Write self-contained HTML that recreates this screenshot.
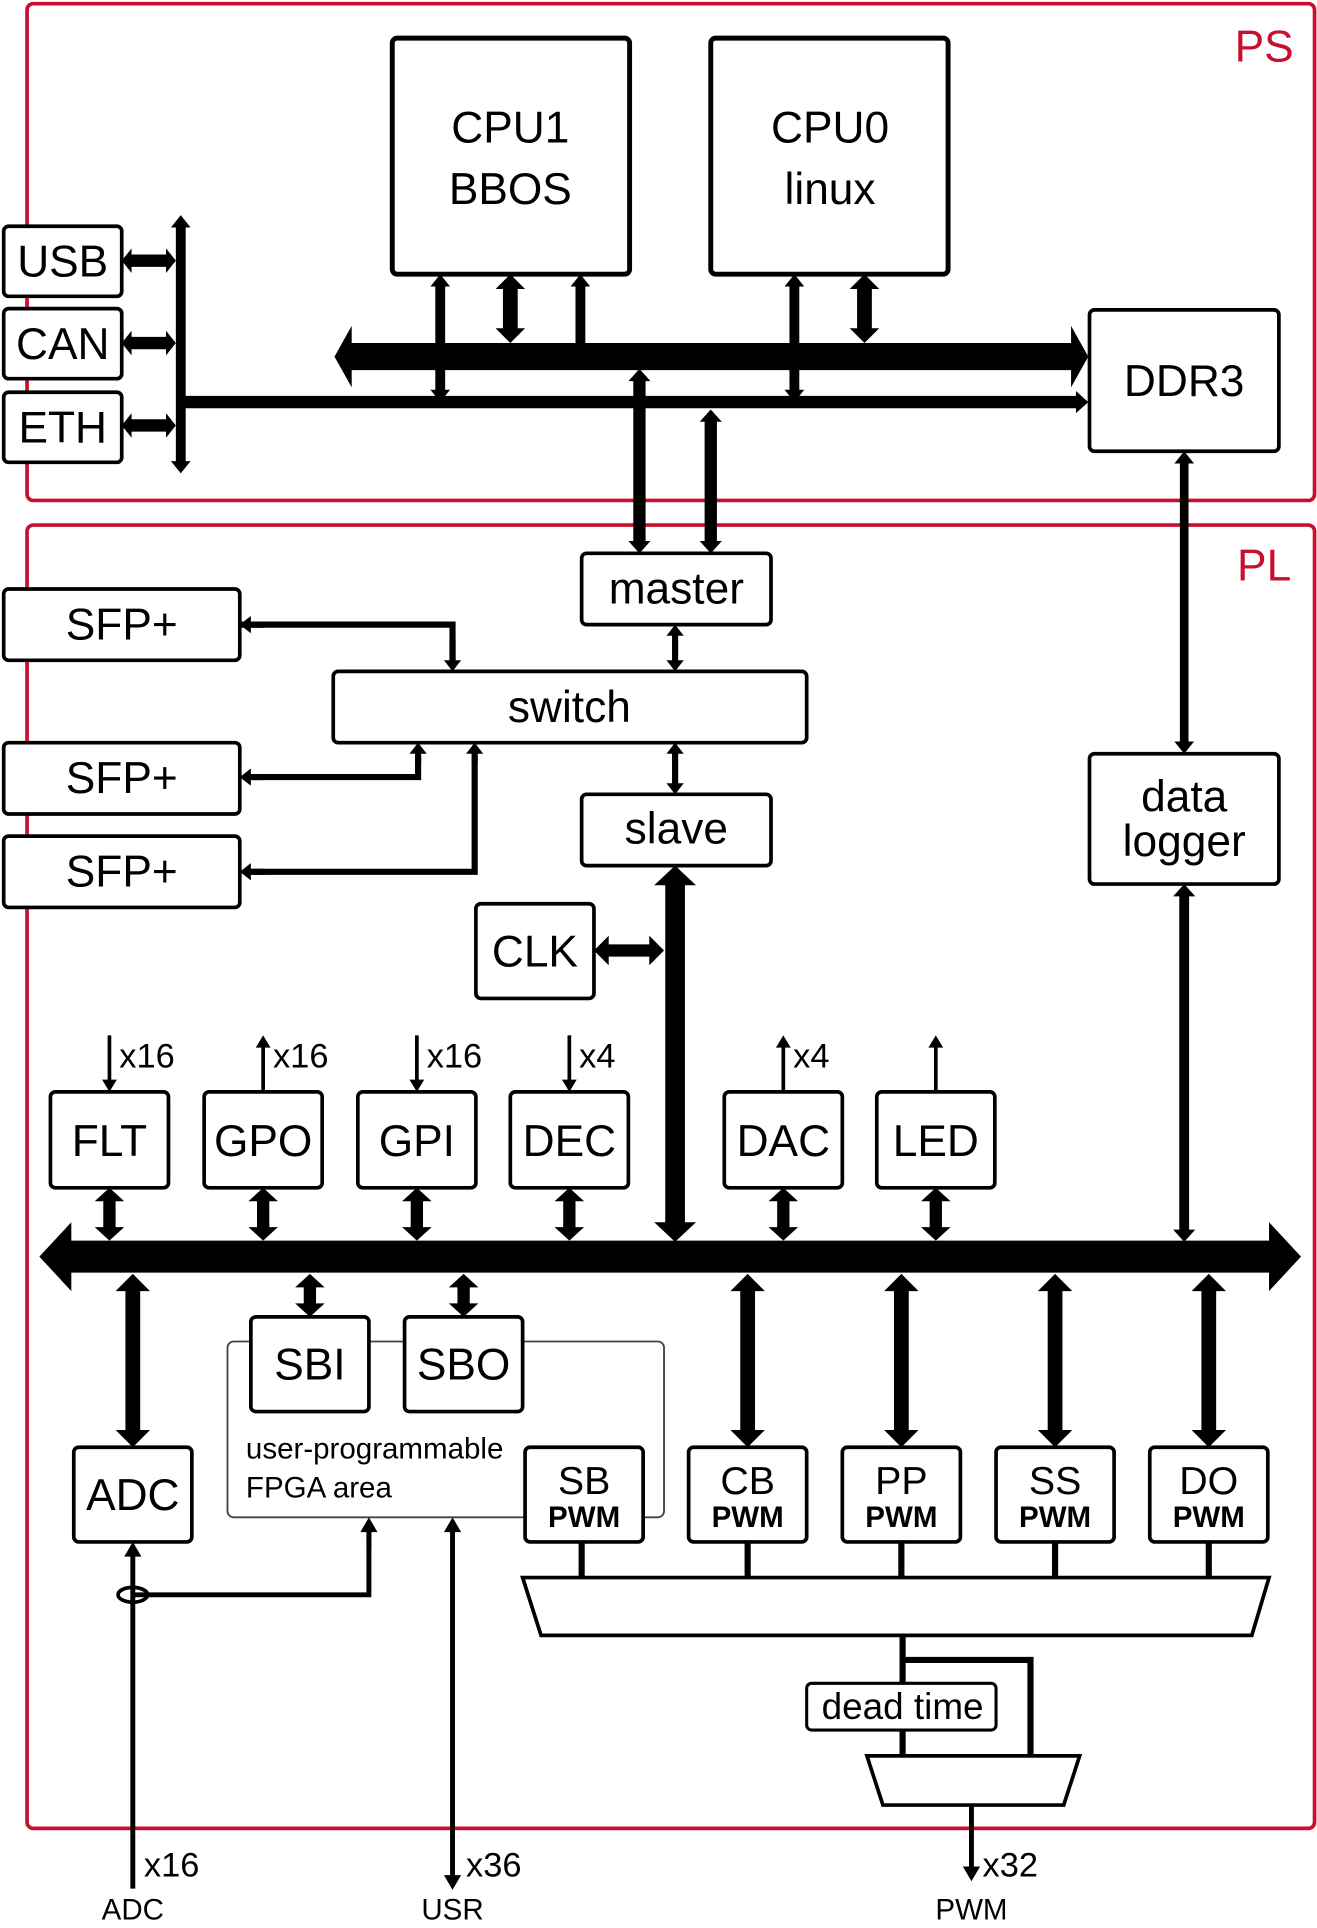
<!DOCTYPE html>
<html><head><meta charset="utf-8"><style>
html,body{margin:0;padding:0;background:#fff;}
svg{display:block;}
text{font-family:"Liberation Sans",sans-serif;fill:#000;text-anchor:middle;}
text.l{text-anchor:start;}
</style></head><body>
<svg id="s" width="1317" height="1928" viewBox="0 0 1071 1568" preserveAspectRatio="none" xmlns="http://www.w3.org/2000/svg">
<g fill="none" stroke="#c8102e" stroke-width="3">
<rect x="22" y="3" width="1047" height="404" rx="5"/>
<rect x="22" y="427" width="1047" height="1060" rx="5"/>
</g>
<text x="1028" y="50" font-size="36" style="fill:#c8102e">PS</text>
<text x="1028" y="472" font-size="36" style="fill:#c8102e">PL</text>
<rect x="185" y="1091" width="355" height="143" rx="5" fill="none" stroke="#444" stroke-width="1.5"/>
<g fill="#fff" stroke="#000" stroke-width="3">
<rect x="319" y="31" width="193" height="192" rx="4" stroke-width="4"/>
<rect x="578" y="31" width="193" height="192" rx="4" stroke-width="4"/>
<rect x="3" y="184" width="96" height="57" rx="4"/>
<rect x="3" y="251" width="96" height="57" rx="4"/>
<rect x="3" y="319" width="96" height="57" rx="4"/>
<rect x="886" y="252" width="154" height="115" rx="4"/>
<rect x="473" y="450" width="154" height="58" rx="4"/>
<rect x="271" y="546" width="385" height="58" rx="4"/>
<rect x="473" y="646" width="154" height="58" rx="4"/>
<rect x="3" y="479" width="192" height="58" rx="4"/>
<rect x="3" y="604" width="192" height="58" rx="4"/>
<rect x="3" y="680" width="192" height="58" rx="4"/>
<rect x="387" y="735" width="96" height="77" rx="4"/>
<rect x="886" y="613" width="154" height="106" rx="4"/>
<rect x="41" y="888" width="96" height="78" rx="4"/>
<rect x="166" y="888" width="96" height="78" rx="4"/>
<rect x="291" y="888" width="96" height="78" rx="4"/>
<rect x="415" y="888" width="96" height="78" rx="4"/>
<rect x="589" y="888" width="96" height="78" rx="4"/>
<rect x="713" y="888" width="96" height="78" rx="4"/>
<rect x="60" y="1177" width="96" height="77" rx="4"/>
<rect x="204" y="1071" width="96" height="77" rx="4"/>
<rect x="329" y="1071" width="96" height="77" rx="4"/>
<rect x="427" y="1177" width="96" height="77" rx="4"/>
<rect x="560" y="1177" width="96" height="77" rx="4"/>
<rect x="685" y="1177" width="96" height="77" rx="4"/>
<rect x="810" y="1177" width="96" height="77" rx="4"/>
<rect x="935" y="1177" width="96" height="77" rx="4"/>
<polygon points="425,1283 1032,1283 1018,1330 440,1330"/>
<polygon points="705,1428 878,1428 865,1468 718,1468"/>
</g>
<g stroke="#000" stroke-width="5" fill="none">
<line x1="473" y1="1254" x2="473" y2="1283"/>
<line x1="608" y1="1254" x2="608" y2="1283"/>
<line x1="733" y1="1254" x2="733" y2="1283"/>
<line x1="858" y1="1254" x2="858" y2="1283"/>
<line x1="983" y1="1254" x2="983" y2="1283"/>
<line x1="734" y1="1330" x2="734" y2="1369"/>
<line x1="734" y1="1407" x2="734" y2="1428"/>
<polyline points="734,1350 838,1350 838,1428"/>
<polyline points="108,1297 300,1297 300,1245" stroke-width="4"/>
<ellipse cx="108" cy="1297" rx="12" ry="6" stroke-width="3"/>
</g>
<rect x="656" y="1369" width="154" height="38" rx="4" fill="#fff" stroke="#000" stroke-width="2.5"/>
<g id="arrows"></g>
<g font-size="36">
<text x="415" y="116">CPU1</text>
<text x="415" y="166">BBOS</text>
<text x="675" y="116">CPU0</text>
<text x="675" y="166">linux</text>
<text x="51" y="225">USB</text>
<text x="51" y="292">CAN</text>
<text x="51" y="360">ETH</text>
<text x="963" y="322">DDR3</text>
<text x="550" y="491">master</text>
<text x="463" y="587">switch</text>
<text x="550" y="686">slave</text>
<text x="99" y="520">SFP+</text>
<text x="99" y="645">SFP+</text>
<text x="99" y="721">SFP+</text>
<text x="435" y="786">CLK</text>
<text x="963" y="660">data</text>
<text x="963" y="696">logger</text>
<text x="89" y="940">FLT</text>
<text x="214" y="940">GPO</text>
<text x="339" y="940">GPI</text>
<text x="463" y="940">DEC</text>
<text x="637" y="940">DAC</text>
<text x="761" y="940">LED</text>
<text x="108" y="1228">ADC</text>
<text x="252" y="1122">SBI</text>
<text x="377" y="1122">SBO</text>
</g>
<g font-size="32">
<text x="475" y="1215">SB</text><text x="608" y="1215">CB</text><text x="733" y="1215">PP</text><text x="858" y="1215">SS</text><text x="983" y="1215">DO</text>
</g>
<g font-size="24" font-weight="bold">
<text x="475" y="1242">PWM</text><text x="608" y="1242">PWM</text><text x="733" y="1242">PWM</text><text x="858" y="1242">PWM</text><text x="983" y="1242">PWM</text>
</g>
<g font-size="24">
<text class="l" x="200" y="1186">user-programmable</text>
<text class="l" x="200" y="1218">FPGA area</text>
</g>
<text x="734" y="1398" font-size="30">dead time</text>
<g font-size="28">
<text class="l" x="97" y="868">x16</text><text class="l" x="222" y="868">x16</text><text class="l" x="347" y="868">x16</text>
<text class="l" x="471" y="868">x4</text><text class="l" x="645" y="868">x4</text>
<text class="l" x="117" y="1526">x16</text><text class="l" x="379" y="1526">x36</text><text class="l" x="799" y="1526">x32</text>
</g>
<g font-size="24">
<text x="108" y="1561">ADC</text><text x="368" y="1561">USR</text><text x="790" y="1561">PWM</text>
</g>
</svg>
<script>
var g=document.getElementById('arrows');
function A(x1,y1,x2,y2,w,s,e,hl,hw){
 hl=hl||Math.max(w*1.5,9);hw=hw||Math.max(w*1.2,7);
 var dx=x2-x1,dy=y2-y1,L=Math.hypot(dx,dy),ux=dx/L,uy=dy/L,nx=-uy,ny=ux,p=[];
 function P(x,y){p.push(x.toFixed(1)+','+y.toFixed(1));}
 var sx=s?x1+ux*hl:x1,sy=s?y1+uy*hl:y1,ex=e?x2-ux*hl:x2,ey=e?y2-uy*hl:y2;
 P(sx+nx*w/2,sy+ny*w/2);P(ex+nx*w/2,ey+ny*w/2);
 if(e){P(ex+nx*hw,ey+ny*hw);P(x2,y2);P(ex-nx*hw,ey-ny*hw);}
 P(ex-nx*w/2,ey-ny*w/2);P(sx-nx*w/2,sy-ny*w/2);
 if(s){P(sx-nx*hw,sy-ny*hw);P(x1,y1);P(sx+nx*hw,sy+ny*hw);}
 var el=document.createElementNS('http://www.w3.org/2000/svg','polygon');
 el.setAttribute('points',p.join(' '));g.appendChild(el);
}
function L(pts,w){var el=document.createElementNS('http://www.w3.org/2000/svg','polyline');el.setAttribute('points',pts);el.setAttribute('fill','none');el.setAttribute('stroke','#000');el.setAttribute('stroke-width',w);g.appendChild(el);}
A(272,290,885,290,22,1,1,14,25);
A(150,327,885,327,10,0,1,10,9);
A(147,175,147,385,8,1,1,10,8);
A(99,212,143,212,10,1,1,8,10);A(99,279,143,279,10,1,1,8,10);A(99,346,143,346,10,1,1,8,10);
A(358,223,358,327,8,1,1,10,8);A(415,223,415,279,12,1,1,12,12);A(472,223,472,279,8,1,0,10,8);
A(646,223,646,327,8,1,1,10,8);A(703,223,703,279,12,1,1,12,12);
A(520,300,520,450,10,1,1,10,9);A(578,333,578,450,10,1,1,10,9);
A(963,367,963,613,7,1,1,10,8);
L('195,508 368,508 368,540',5);A(195,508,215,508,5,1,0,9,7);A(368,520,368,546,5,0,1,9,7);
L('205,632 340,632 340,615',5);A(195,632,215,632,5,1,0,9,7);A(340,620,340,604,5,0,1,9,7);
L('205,709 386,709 386,615',5);A(195,709,215,709,5,1,0,9,7);A(386,620,386,604,5,0,1,9,7);
A(549,508,549,546,5,1,1,9,7);A(549,604,549,646,5,1,1,9,7);
A(549,704,549,1010,16,1,1,16,17);
A(483,773,540,773,10,1,1,12,12);
A(963,719,963,1010,8,1,1,10,9);
A(32,1022,1058,1022,26,1,1,26,28);
[89,214,339,463,637,761].forEach(function(x){A(x,966,x,1009,10,1,1,11,12);});
A(89,842,89,888,3,0,1,10,6);A(214,888,214,842,3,0,1,10,6);A(339,842,339,888,3,0,1,10,6);
A(463,842,463,888,3,0,1,10,6);A(637,888,637,842,3,0,1,10,6);A(761,888,761,842,3,0,1,10,6);
A(108,1036,108,1177,12,1,1,14,14);
A(252,1036,252,1071,10,1,1,11,12);A(377,1036,377,1071,10,1,1,11,12);
[608,733,858,983].forEach(function(x){A(x,1036,x,1177,12,1,1,14,14);});
A(108,1536,108,1254,4,0,1,12,7);
A(300,1260,300,1234,4,0,1,12,7);
A(368,1537,368,1234,4,1,1,12,7);
A(790,1468,790,1530,4,0,1,12,7);
</script>
</body></html>
